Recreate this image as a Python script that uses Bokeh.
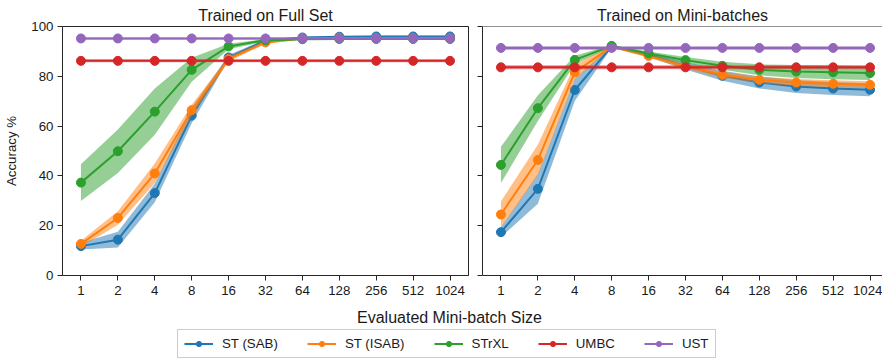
from bokeh.plotting import figure
from bokeh.layouts import column, row
from bokeh.models import FixedTicker, Legend, LegendItem, Label, Span, Range1d, ColumnDataSource
from bokeh.embed import file_html
from bokeh.resources import INLINE

FONT = "Liberation Sans"

batch_sizes = ["1", "2", "4", "8", "16", "32", "64", "128", "256", "512", "1024"]
series_names = ["ST (SAB)", "ST (ISAB)", "STrXL", "UMBC", "UST"]
colors = ["#1f77b4", "#ff7f0e", "#2ca02c", "#d62728", "#9467bd"]

# ---- Trained on Full Set: means and half-widths of the shaded bands
full_sab = [11.8, 14.4, 33.1, 64.2, 87.6, 94.3, 95.6, 95.9, 96.0, 96.0, 96.0]
full_sab_hw = [1.4, 3.2, 3.7, 3.1, 1.0, 0.6, 0.3, 0.3, 0.3, 0.3, 0.3]
full_isab = [12.7, 23.1, 41.0, 66.4, 86.9, 93.6, 95.2, 95.3, 95.3, 95.3, 95.3]
full_isab_hw = [1.3, 2.7, 4.0, 2.2, 1.0, 0.6, 0.3, 0.3, 0.3, 0.3, 0.3]
full_strxl = [37.3, 49.9, 65.8, 82.6, 92.0, 94.5, 94.9, 95.0, 95.0, 95.0, 95.0]
full_strxl_hw = [7.4, 8.7, 9.3, 4.8, 1.1, 0.5, 0.3, 0.3, 0.3, 0.3, 0.3]
full_umbc = [86.2] * 11
full_umbc_hw = [0.6] * 11
full_ust = [95.2] * 11
full_ust_hw = [0.5] * 11

# ---- Trained on Mini-batches
mini_sab = [17.4, 34.8, 74.5, 92.0, 88.6, 84.2, 80.2, 77.5, 75.9, 75.1, 74.6]
mini_sab_hw = [2.0, 6.0, 4.4, 0.5, 0.8, 1.5, 2.0, 2.4, 2.6, 2.6, 2.6]
mini_isab = [24.5, 46.4, 81.6, 92.0, 88.2, 84.0, 80.6, 78.6, 77.5, 77.0, 76.6]
mini_isab_hw = [5.3, 6.1, 3.0, 0.5, 0.8, 1.0, 1.2, 1.3, 1.4, 1.4, 1.4]
mini_strxl = [44.4, 67.2, 86.6, 92.2, 89.2, 86.5, 84.2, 82.6, 81.9, 81.6, 81.3]
mini_strxl_hw = [7.3, 5.2, 1.7, 0.4, 0.8, 1.3, 1.6, 2.2, 2.6, 2.8, 2.8]
mini_umbc = [83.6] * 11
mini_umbc_hw = [0.8] * 11
mini_ust = [91.4] * 11
mini_ust_hw = [0.8] * 11

full_series = [(full_sab, full_sab_hw), (full_isab, full_isab_hw), (full_strxl, full_strxl_hw),
               (full_umbc, full_umbc_hw), (full_ust, full_ust_hw)]
mini_series = [(mini_sab, mini_sab_hw), (mini_isab, mini_isab_hw), (mini_strxl, mini_strxl_hw),
               (mini_umbc, mini_umbc_hw), (mini_ust, mini_ust_hw)]

xs = list(range(len(batch_sizes)))
AX = "#262626"
TXT = "#1a1a1a"
PX_PER_UNIT = 406 / 11.0


def make_panel(title, series, frame_w, left, right, show_labels):
    x_end = -0.5 + frame_w / PX_PER_UNIT
    p = figure(frame_width=frame_w, frame_height=249, output_backend="svg", toolbar_location=None,
               x_range=Range1d(-0.5, x_end), y_range=Range1d(0, 100),
               min_border_left=left, min_border_right=right, min_border_top=26,
               min_border_bottom=25, title=title)
    p.title.text_font = FONT
    p.title.text_font_size = "16px"
    p.title.text_font_style = "normal"
    p.title.align = "center"
    p.title.text_color = TXT
    p.title.standoff = 6
    p.xgrid.visible = False
    p.ygrid.visible = False
    p.background_fill_color = "white"
    p.border_fill_color = "white"
    for ax in (p.xaxis[0], p.yaxis[0]):
        ax.axis_line_color = AX
        ax.major_tick_line_color = AX
        ax.major_tick_out = 5
        ax.major_tick_in = 0
        ax.minor_tick_line_color = None
        ax.minor_tick_out = 0
        ax.major_label_text_font = FONT
        ax.major_label_text_font_size = "13.3px"
        ax.major_label_text_color = TXT
    p.xaxis.ticker = FixedTicker(ticks=xs)
    p.xaxis.major_label_overrides = {i: b for i, b in enumerate(batch_sizes)}
    p.xaxis.major_label_standoff = 5
    p.yaxis.ticker = FixedTicker(ticks=[0, 20, 40, 60, 80, 100])
    if show_labels:
        p.yaxis.major_label_standoff = 4
        p.yaxis.axis_label = "Accuracy %"
        p.yaxis.axis_label_text_font = FONT
        p.yaxis.axis_label_text_font_size = "13.3px"
        p.yaxis.axis_label_text_font_style = "normal"
        p.yaxis.axis_label_text_color = TXT
        p.yaxis.axis_label_standoff = 9
        p.outline_line_color = AX
        p.outline_line_width = 1
        p.outline_line_alpha = 1
    else:
        p.yaxis.major_label_text_font_size = "0px"
        p.yaxis.major_label_standoff = 0
        p.yaxis.major_label_overrides = {t: "" for t in [0, 20, 40, 60, 80, 100]}
        p.outline_line_color = None
        p.add_layout(Span(location=100, dimension="width", line_color=AX, line_width=1))

    for (mean, hw), c in zip(series, colors):
        lo = [m - h for m, h in zip(mean, hw)]
        hi = [m + h for m, h in zip(mean, hw)]
        src = ColumnDataSource(dict(x=xs, y=mean, lo=lo, hi=hi))
        p.varea(x="x", y1="lo", y2="hi", source=src, fill_color=c, fill_alpha=0.5)
        p.line(x="x", y="y", source=src, line_color=c, line_width=2)
        p.scatter(x="x", y="y", source=src, size=9, fill_color=c, line_color=c)
    return p


p1 = make_panel("Trained on Full Set", full_series, 406, 62, 4, True)
p2 = make_panel("Trained on Mini-batches", mini_series, 400, 10, 0, False)

# bottom strip: shared x label and legend
pb = figure(width=882, height=60, output_backend="svg", toolbar_location=None,
            x_range=Range1d(0, 1), y_range=Range1d(0, 1),
            min_border_left=0, min_border_right=0, min_border_top=0, min_border_bottom=0)
pb.xaxis.visible = False
pb.yaxis.visible = False
pb.xgrid.visible = False
pb.ygrid.visible = False
pb.outline_line_color = None
pb.add_layout(Label(x=449, y=43, x_units="screen", y_units="screen",
                    text="Evaluated Mini-batch Size", text_font=FONT, text_font_size="16px",
                    text_align="center", text_baseline="middle", text_color=TXT))

items = []
dummy = ColumnDataSource(dict(x=[-10], y=[-10]))
for name, c in zip(series_names, colors):
    lr = pb.line(x="x", y="y", source=dummy, line_color=c, line_width=2)
    sr = pb.scatter(x="x", y="y", source=dummy, size=9, fill_color=c, line_color=c)
    items.append(LegendItem(label=name, renderers=[lr, sr]))

legend = Legend(items=items, orientation="horizontal", location=(177, 2),
                label_text_font=FONT, label_text_font_size="13.3px", label_text_color=TXT,
                glyph_width=29, glyph_height=13, label_height=13, label_standoff=9,
                spacing=29, padding=6, margin=0,
                border_line_color="#cccccc", border_line_width=1, border_line_alpha=1,
                background_fill_color="white", background_fill_alpha=1)
pb.add_layout(legend, "center")

layout = column(row(p1, p2), pb)
open("out.html", "w").write(file_html(layout, INLINE))
